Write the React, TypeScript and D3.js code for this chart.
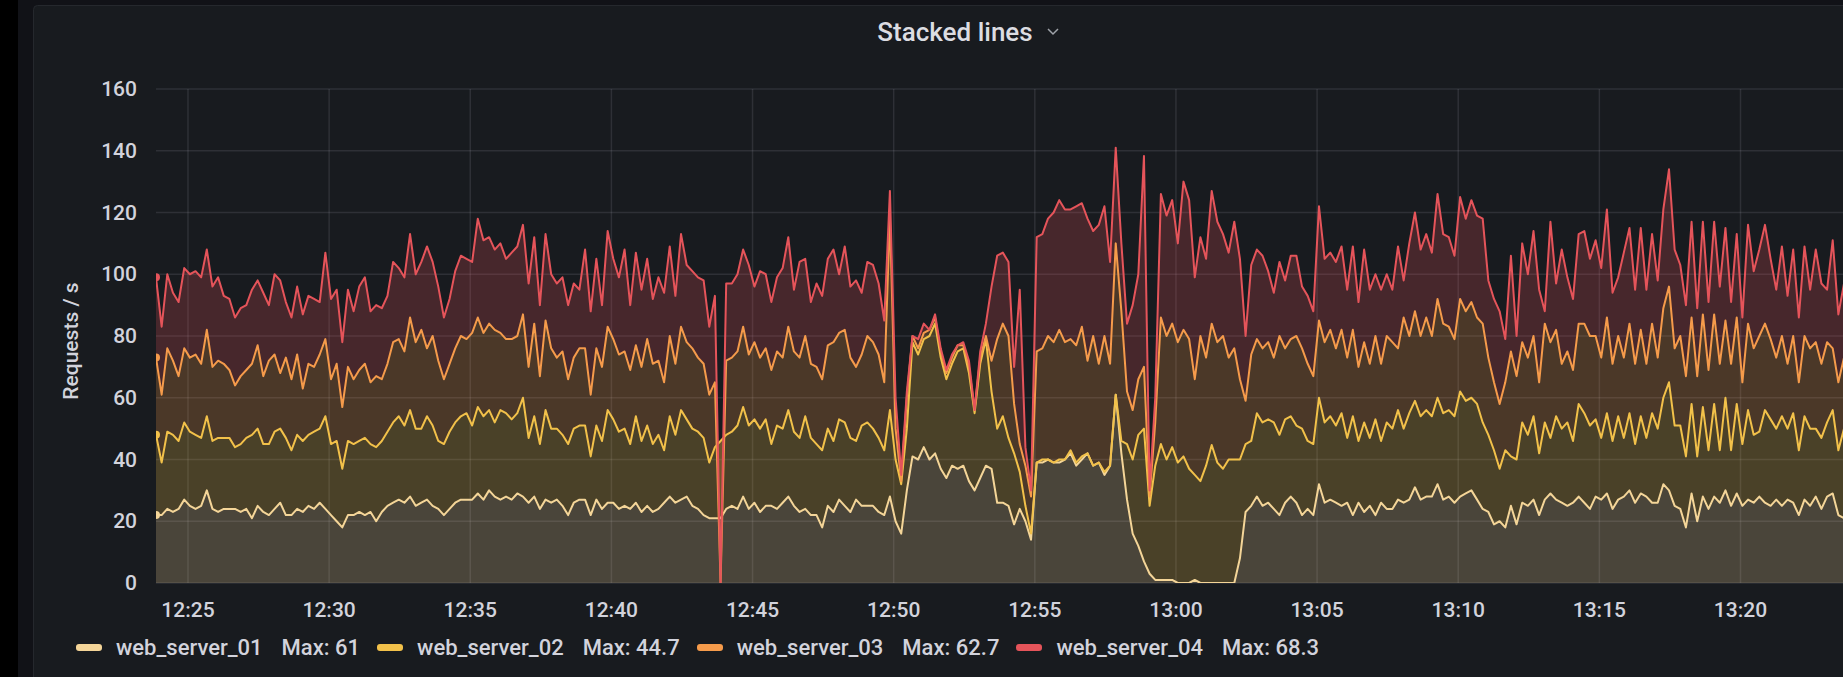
import { useEffect, useMemo } from 'react';
import * as d3 from 'd3';

// Grafana-style "Stacked lines" time series panel, 4 web servers stacked.

const WIDTH  = 1843;
const HEIGHT = 677;
const PLOT   = { left: 156, right: 1844, top: 89, bottom: 583 };

const SERIES     = ['web_server_01', 'web_server_02', 'web_server_03', 'web_server_04'];
const COLORS     = ['#F4D598', '#F2C14A', '#F59B4B', '#E5545A'];
const LEGEND_MAX = ['61', '44.7', '62.7', '68.3'];
const Y_TICKS    = [0, 20, 40, 60, 80, 100, 120, 140, 160];

const START  = new Date(2021, 0, 1, 12, 23, 52);
const END    = new Date(2021, 0, 1, 13, 23, 40);
const STEP_S = 12;

const FONT = "Roboto, 'Noto Sans', sans-serif";
const TEXT = '#d2d3dc';

const WEB_SERVER_01 = [
  22,22,24,23,24,27,25,24,25,30, 24,23,24,24,24,23,24,21,25,23,
  22,24,26,22,22,24,23,25,24,26, 24,22,20,18,22,22,23,22,23,20,
  23,25,26,27,26,28,25,26,27,25, 24,22,24,26,27,27,27,29,27,30,
  28,27,28,27,29,28,26,28,24,27, 26,27,25,22,26,27,
  27,22,27,24,26,26,24,25,24,26, 23,25,23,24,26,28,26,27,28,25,
  24,22,21,21,21,24,25,24,28,24, 26,23,25,25,24,26,28,25,23,24,
  22,22,18,25,23,27,25,23,27,25, 25,25,23,22,28,20,16,30,
  41,40,44,40,42,37,34,38,37,38,33,30,34,38,37,26,
  26,25,19,24,20,14,39,39,40,39, 39,40,42,38,40,42,38,39,35,38,
  61,42,27,16,12,7,3,1,1,1, 1,0,0,0,1,0,0,0,0,0,
  0,0,8,23,25,28,25,26,24,22, 26,28,26,22,24,22,32,26,27,26,
  25,26,22,26,23,25,22,26,24,24, 27,26,27,31,27,28,28,32,
  27,28,26,28,29,30,27,24,23,19, 20,18,25,19,26,25,27,22,27,29,
  27,26,25,26,28,26,24,28,27,29, 24,27,28,30,26,29,28,26,26,32,
  30,25,24,18,29,20,28,24,28,26, 30,25,29,25,27,26,28,26,25,27,
  25,27,26,22,27,25,28,24,28,29, 22,21,
];

const WEB_SERVER_02 = [
  26,17,25,25,22,25,24,24,22,24, 22,24,23,23,20,22,23,27,25,22,
  23,25,24,25,21,24,23,23,25,24, 30,23,26,19,24,23,23,25,22,24,
  23,24,26,27,25,28,25,24,27,26, 22,23,25,26,27,28,24,28,27,26,
  24,29,27,26,26,32,21,26,21,29, 24,23,23,23,24,24,
  24,19,24,22,30,27,25,25,21,28, 23,26,22,24,17,26,22,29,25,25,
  25,25,18,23,25,24,24,27,29,27, 27,27,28,20,27,24,28,24,24,30,
  25,23,25,25,23,26,27,24,19,26, 27,25,24,21,28,20,16,20,
  37,34,35,40,42,36,32,33,38,38,35,25,37,41,25,24,
  28,22,23,12,5,2,0,1,0,0, 1,0,1,1,1,0,0,0,1,0,
  0,4,18,24,36,43,22,37,44,39, 43,39,41,37,34,33,38,44.7,39,37,
  40,40,32,22,21,27,27,27,28,26, 27,26,25,28,22,23,28,26,27,25,
  30,21,32,20,29,22,31,20,28,26, 29,24,28,28,27,28,26,28,
  28,28,28,34,30,30,31,28,25,24, 17,25,16,21,26,23,27,20,25,18,
  27,24,27,20,30,29,27,25,20,26, 22,27,19,25,19,25,19,29,24,28,
  35,26,27,23,29,21,29,19,30,17, 30,18,29,20,29,22,21,30,28,23,
  29,23,29,21,27,25,22,23,24,27, 21,29,
];

const WEB_SERVER_03 = [
  25,22,27,24,21,24,24,26,24,28, 24,25,24,22,20,22,22,23,27,22,
  27,25,18,26,23,26,17,23,21,24, 25,21,25,20,24,21,23,24,20,23,
  20,22,26,25,24,30,28,32,22,29, 26,21,22,24,26,24,30,29,27,28,
  30,25,24,26,25,27,23,30,22,29, 26,23,27,21,23,25,
  25,20,25,24,27,26,25,25,24,23, 24,28,26,24,22,26,23,27,25,26,
  24,24,22,21,-46,24,24,24,26,23, 25,23,23,24,24,23,27,26,26,26,
  24,25,23,27,32,28,30,26,24,23, 28,28,27,22,62.7,10,1,10,
  2,2,2,2,2,2,2,2,2,1,2,1,2,1,10,29,
  30,33,16,9,13,12,36,36,40,39, 42,38,36,38,42,30,42,32,44,33,
  49,42,17,16,18,20,3,14,41,40, 40,39,41,42,31,47,35,39.3,39,43,
  33,36,26,14,28,24,24,25,21,32, 23,25,29,26,25,22,25,26,28,25,
  27,26,28,24,26,24,27,25,28,28, 20,36,25,29,26,30,26,32,
  29,27,25,30,29,31,28,32,25,22, 21,22,34,27,26,25,26,23,32,31,
  28,21,23,23,26,29,29,27,26,31, 25,26,26,29,26,28,24,29,23,29,
  31,25,29,26,28,26,30,26,29,28, 25,28,28,20,28,28,31,28,26,23,
  26,21,25,22,26,26,28,24,26,20, 22,23,
];

const WEB_SERVER_04 = [
  26,22,24,22,24,26,27,27,28,26, 26,27,22,23,22,22,21,24,21,27,
  18,26,30,18,20,22,24,22,22,17, 28,26,24,21,25,22,27,28,23,23,
  23,22,26,23,24,27,22,22,33,24, 24,20,21,25,26,26,23,32,30,28,
  26,29,26,28,29,29,27,28,23,28, 24,24,24,24,24,19,
  32,27,29,20,31,26,25,33,21,30, 25,26,21,27,29,29,22,30,25,25,
  26,27,22,28,0,25,24,25,25,29, 18,28,24,22,24,29,29,20,31,25,
  20,27,27,28,30,19,27,23,28,20, 24,25,23,20,8.3,10,2,2,
  0,3,3,0,1,1,1,1,0,1,2,0,2,4,24,27,
  23,24,12,50,6,2,37,37,38,42, 42,43,42,45,40,46,34,45,42,33,
  31,22,22,34,34,68.3,2,8,40,39, 40,32,48,45,33,32,32,43,39,33,
  34,41,39,21,29,29,30,23,21,24, 22,27,26,20,22,21,37,27,25,28,
  27,22,27,21,30,24,20,24,20,17, 33,12,30,32,28,27,27,34,
  29,29,27,33,30,33,33,34,25,27, 30,14,31,13,32,27,34,30,4,39,
  15,37,24,23,29,30,25,31,29,35, 23,19,34,31,24,33,24,29,25,32,
  38,32,23,23,31,22,30,22,30,25, 30,20,27,21,32,25,28,32,26,22,
  29,22,28,21,29,19,30,26,17,35, 22,24,
];

const VALUES = [WEB_SERVER_01, WEB_SERVER_02, WEB_SERVER_03, WEB_SERVER_04];

type Row = { t: Date } & Record<string, number | Date>;

export default function App() {
  useEffect(() => {
    document.body.style.margin = '0';
    document.body.style.background = '#000';
  }, []);

  const rows: Row[] = useMemo(
    () =>
      WEB_SERVER_01.map((_, i) => {
        const r: Row = { t: new Date(START.getTime() + i * STEP_S * 1000) };
        SERIES.forEach((k, s) => { r[k] = VALUES[s][i]; });
        return r;
      }),
    [],
  );

  const x = d3.scaleTime().domain([START, END]).range([PLOT.left, PLOT.right]);
  const y = d3.scaleLinear().domain([0, 160]).range([PLOT.bottom, PLOT.top]);

  const stacked = d3.stack<Row>().keys(SERIES).value((d, k) => d[k] as number)(rows);

  const area = d3.area<d3.SeriesPoint<Row>>()
    .x((d) => x(d.data.t))
    .y0((d) => y(d[0]))
    .y1((d) => y(d[1]));
  const line = d3.line<d3.SeriesPoint<Row>>()
    .x((d) => x(d.data.t))
    .y((d) => y(d[1]));

  const xTicks = x.ticks(d3.timeMinute.every(5)!).filter((t) => x(t) > PLOT.left + 10);
  const fmt = d3.timeFormat('%H:%M');

  return (
    <div style={{ position: 'relative', width: WIDTH, height: HEIGHT, overflow: 'hidden', background: '#000' }}>
      <svg width={WIDTH} height={HEIGHT} style={{ display: 'block', position: 'absolute', left: 0, top: 0 }}>
        <defs>
          <clipPath id="plot-clip">
            <rect x={PLOT.left} y={0} width={PLOT.right - PLOT.left} height={PLOT.bottom} />
          </clipPath>
        </defs>

        {/* page + panel */}
        <rect x={18} y={0} width={WIDTH} height={HEIGHT} fill="#111217" />
        <rect x={33.5} y={5.5} width={WIDTH} height={HEIGHT} rx={4} fill="#181b1f" stroke="#25282d" />

        {/* title */}
        <text x={955} y={32} textAnchor="middle" dominantBaseline="central"
          fontFamily={FONT} fontSize={26} fontWeight={500} fill="#dcdde2">
          Stacked lines
        </text>
        <path d="M1048,29 l5,5 l5,-5" fill="none" stroke="#9fa3a9" strokeWidth={1.5} />

        {/* grid */}
        {Y_TICKS.map((v) => (
          <line key={`gy${v}`} x1={PLOT.left} x2={WIDTH} y1={y(v)} y2={y(v)}
            stroke="rgba(204,204,220,0.12)" strokeWidth={1.5} />
        ))}
        {xTicks.map((t) => (
          <line key={`gx${+t}`} x1={x(t)} x2={x(t)} y1={PLOT.top} y2={PLOT.bottom}
            stroke="rgba(204,204,220,0.12)" strokeWidth={1.5} />
        ))}

        {/* stacked fills + lines */}
        <g clipPath="url(#plot-clip)">
          {stacked.map((s, i) => (
            <path key={`a${s.key}`} d={area(s) ?? ''} fill={COLORS[i]} fillOpacity={0.23} />
          ))}
          {stacked.map((s, i) => (
            <path key={`l${s.key}`} d={line(s) ?? ''} fill="none" stroke={COLORS[i]}
              strokeWidth={2} strokeLinejoin="round" />
          ))}
          {stacked.map((s, i) => (
            <circle key={`p${s.key}`} cx={x(s[0].data.t)} cy={y(s[0][1])} r={4} fill={COLORS[i]} />
          ))}
        </g>

        {/* y axis */}
        {Y_TICKS.map((v) => (
          <text key={`ty${v}`} x={137} y={y(v)} textAnchor="end" dominantBaseline="central"
            fontFamily={FONT} fontSize={21} fontWeight={500} fill={TEXT}>
            {v}
          </text>
        ))}
        <text transform={`translate(71, ${(PLOT.top + PLOT.bottom) / 2 + 5}) rotate(-90)`}
          textAnchor="middle" dominantBaseline="central" fontFamily={FONT} fontSize={21}
          fontWeight={500} fill={TEXT}>
          Requests / s
        </text>

        {/* x axis */}
        {xTicks.map((t) => (
          <text key={`tx${+t}`} x={x(t)} y={610} textAnchor="middle" dominantBaseline="central"
            fontFamily={FONT} fontSize={21} fontWeight={500} fill={TEXT}>
            {fmt(t)}
          </text>
        ))}
      </svg>

      {/* legend */}
      <div style={{
        position: 'absolute', left: 76, top: 633, height: 28,
        display: 'flex', alignItems: 'center', fontFamily: FONT, fontSize: 22, fontWeight: 500,
        color: TEXT, whiteSpace: 'nowrap',
      }}>
        {SERIES.map((k, i) => (
          <div key={k} style={{ display: 'flex', alignItems: 'center', marginRight: 17 }}>
            <span style={{ width: 26, height: 7, borderRadius: 3, background: COLORS[i], marginRight: 14 }} />
            <span>{k}</span>
            <span style={{ marginLeft: 19 }}>Max: {LEGEND_MAX[i]}</span>
          </div>
        ))}
      </div>
    </div>
  );
}
